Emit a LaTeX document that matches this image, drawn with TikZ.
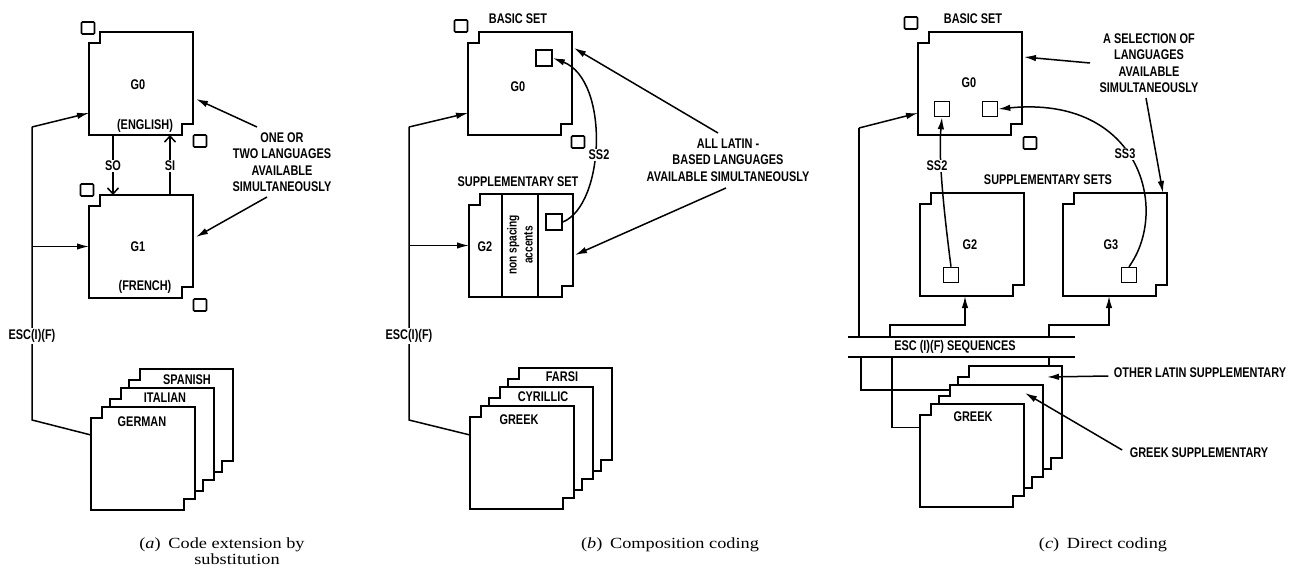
\documentclass[tikz,border=0pt]{standalone}
\usepackage{fontspec}
\setmainfont{Liberation Sans}
\newfontfamily\labfont[FakeStretch=0.78]{Liberation Sans}
\newfontfamily\capfont[FakeStretch=1.18]{Liberation Serif}
\usetikzlibrary{arrows.meta,calc}
\tikzset{
 boxnode/.style={minimum width=104pt,minimum height=103pt,inner sep=0pt,outer sep=0pt},
 boxline/.style={line width=1.8pt,line join=miter},
 sq/.style={draw,line width=1.7pt,minimum width=13pt,minimum height=12pt,inner sep=0pt,rounded corners=1pt},
 isq/.style={draw,line width=1.6pt,minimum width=16pt,minimum height=16pt,inner sep=0pt},
 lab/.style={font=\labfont\bfseries\fontsize{14}{16.5}\selectfont,inner sep=1.5pt,align=center},
 captxt/.style={font=\capfont\fontsize{15.5}{15.5}\selectfont,inner sep=0pt},
 conn/.style={line width=1.5pt},
 arr/.style={conn,-{Latex[length=12pt,width=6.5pt]}},
 oarr/.style={conn,-{Straight Barb[length=6pt,width=11pt]}},
}
\newcommand\nbox[3]{%
  \node[boxnode,anchor=north west] (#1) at (#2,#3) {};
  \draw[boxline,fill=white] ([yshift=-11pt]#1.north west) -- ++(11pt,0) -- ++(0,11pt) -- (#1.north east) -- ([yshift=11pt]#1.south east) -- ++(-11pt,0) -- ++(0,-11pt) -- (#1.south west) -- cycle;}
\begin{document}
\begin{tikzpicture}[x=1pt,y=-1pt]
\useasboundingbox (0,0) rectangle (1302,567);

% ---------------- panel (a)
\nbox{G0a}{89}{32}
\nbox{G1a}{89}{195}
\nbox{Sa3}{129}{369}
\nbox{Sa2}{110}{388}
\nbox{Sa1}{91}{407}
\node[lab] (tG0a) at (138,85) {G0};
\node[lab] (tENG) at (145,126) {(ENGLISH)};
\node[lab] (tG1a) at (138,247) {G1};
\node[lab] (tFRE) at (145,287) {(FRENCH)};
\node[lab] (tSPA) at (187,380) {SPANISH};
\node[lab] (tITA) at (165,398) {ITALIAN};
\node[lab] (tGER) at (142,422) {GERMAN};
\node[lab] (tonea) at (282,162) {ONE OR\\TWO LANGUAGES\\AVAILABLE\\SIMULTANEOUSLY};
\node[sq] (qa1) at (88,28) {};
\node[sq] (qa2) at (200,141) {};
\node[sq] (qa3) at (87,190) {};
\node[sq] (qa4) at (200,305) {};
\coordinate (atop) at (32,127);
\coordinate (abot) at (32,420);
\draw[conn] ([yshift=23.5pt]Sa1.west) -- (abot) -- (atop);
\draw[arr] (atop) -- ([yshift=22pt]G0a.south west);
\draw[arr] (G1a.west -| atop) -- (G1a.west);
\node[lab,fill=white] (esca) at (32,336) {ESC(I)(F)};
\draw[oarr] ([xshift=24pt]G0a.south west) -- ([xshift=24pt]G1a.north west);
\draw[oarr] ([xshift=81pt]G1a.north west) -- ([xshift=81pt]G0a.south west);
\node[lab,fill=white] (tSO) at (113,166) {SO};
\node[lab,fill=white] (tSI) at (170,166) {SI};
\coordinate (ona1) at (257,127);
\coordinate (ona2) at (267,197);
\draw[arr] (ona1) -- ([yshift=-15.5pt,xshift=3pt]G0a.east);
\draw[arr] (ona2) -- ([yshift=9.5pt,xshift=3pt]G1a.east);
\node[captxt] (capa1) at (222,545) {(\textit{a})\enspace Code extension by};
\node[captxt] (capa2) at (237,559) {substitution};

% ---------------- panel (b)
\nbox{G0b}{468}{32}
\nbox{G2b}{469}{194}
\draw[boxline] ([xshift=33pt]G2b.north west) -- ([xshift=33pt]G2b.south west);
\draw[boxline] ([xshift=69pt]G2b.north west) -- ([xshift=69pt]G2b.south west);
\nbox{Sb3}{508}{368}
\nbox{Sb2}{489}{387}
\nbox{Sb1}{470}{406}
\node[lab] (tBASb) at (518,19) {BASIC SET};
\node[lab] (tG0b) at (518,87) {G0};
\node[lab] (tSUPb) at (518,182) {SUPPLEMENTARY SET};
\node[lab] (tG2b) at (485,247) {G2};
\node[lab,rotate=90,font=\labfont\bfseries\fontsize{13}{16}\selectfont] (tnsp) at (520,245) {non spacing\\accents};
\node[lab] (tFAR) at (562,377) {FARSI};
\node[lab] (tCYR) at (543,397) {CYRILLIC};
\node[lab] (tGREb) at (519,420) {GREEK};
\node[sq] (qb1) at (461,26) {};
\node[sq] (qb2) at (578,142) {};
\node[isq] (qb3) at (544,58) {};
\node[isq] (qb4) at (554,222) {};
\draw[arr] (qb4.east) .. controls (605,205) and (610,80) .. (qb3.east);
\node[lab,fill=white] (tSS2b) at (599,155) {SS2};
\coordinate (btop) at (409,127);
\coordinate (bbot) at (409,420);
\draw[conn] ([yshift=22.5pt]Sb1.west) -- (bbot) -- (btop);
\draw[arr] (btop) -- ([yshift=22pt]G0b.south west);
\draw[arr] (G2b.west -| btop) -- (G2b.west);
\node[lab,fill=white] (escb) at (409,336) {ESC(I)(F)};
\node[lab] (tallb) at (728,160) {ALL LATIN -\\BASED LANGUAGES\\AVAILABLE SIMULTANEOUSLY};
\coordinate (alb1) at (718,133);
\coordinate (alb2) at (726,188);
\draw[arr] (alb1) -- ([yshift=35.5pt,xshift=2pt]G0b.east);
\draw[arr] (alb2) -- ([yshift=-9.5pt,xshift=2pt]G2b.east);
\node[captxt] (capb) at (670,545) {(\textit{b})\enspace Composition coding};

% ---------------- panel (c)
\nbox{G0c}{918}{32}
\nbox{G2c}{920}{193}
\nbox{G3c}{1063}{193}
\nbox{Sc3}{958}{366}
\nbox{Sc2}{939}{385}
\nbox{Sc1}{920}{404}
\node[lab] (tBASc) at (973,19) {BASIC SET};
\node[lab] (tG0c) at (969,83) {G0};
\node[lab] (tSUPc) at (1048,180) {SUPPLEMENTARY SETS};
\node[lab] (tG2c) at (970,245) {G2};
\node[lab] (tG3c) at (1111,245) {G3};
\node[lab] (tGREc) at (973,417) {GREEK};
\node[lab] (tselc) at (1149,63) {A SELECTION OF\\LANGUAGES\\AVAILABLE\\SIMULTANEOUSLY};
\node[sq] (qc1) at (911,23) {};
\node[sq] (qc2) at (1030,143) {};
\node[isq,minimum size=15pt] (qc3) at (942,109) {};
\node[isq,minimum size=15pt] (qc4) at (990,109) {};
\node[isq,minimum size=15pt] (qc5) at (951,275) {};
\node[isq,minimum size=15pt] (qc6) at (1129,275) {};
\draw[arr] (qc5.north) .. controls (945,220) and (938,160) .. (qc3.south);
\draw[arr] (qc6.north) .. controls (1170,210) and (1140,95) .. (qc4.east);
\node[lab,fill=white] (tSS2c) at (937,166) {SS2};
\node[lab,fill=white] (tSS3c) at (1125,154) {SS3};
\node[minimum width=227pt,minimum height=20pt,inner sep=0pt,outer sep=0pt,anchor=north west] (band) at (848,337) {};
\draw[conn] (band.north west) -- (band.north east);
\draw[conn] (band.south west) -- (band.south east);
\node[lab] (bandt) at (955,347) {ESC (I)(F) SEQUENCES};
\coordinate (ctop) at (859,128);
\draw[conn] ([xshift=11pt]band.north west) -- (ctop);
\draw[arr] (ctop) -- ([yshift=22pt]G0c.south west);
\coordinate (k1) at (965,325);
\coordinate (k2) at (1109,325);
\draw[arr] ([xshift=42pt]band.north west) |- (k1) -- ([xshift=-7pt]G2c.south);
\draw[arr] ([xshift=201pt]band.north west) |- (k2) -- ([xshift=-6pt]G3c.south);
\draw[conn] ([xshift=201pt]band.south west) -- ([xshift=91pt]Sc3.north west);
\draw[conn] ([xshift=44pt]band.south west) |- ([yshift=28pt]Sc1.west);
\draw[conn] ([xshift=13pt]band.south west) |- ([xshift=11pt,yshift=-5pt]Sc2.north west);
\coordinate (sel1) at (1090,63);
\coordinate (sel2) at (1146,98);
\draw[arr] (sel1) -- ([yshift=26.5pt,xshift=2pt]G0c.east);
\draw[arr] (sel2) -- ([xshift=-4pt]G3c.north east);
\node[lab] (olt) at (1200,373) {OTHER LATIN SUPPLEMENTARY};
\draw[arr] ([xshift=-4pt,yshift=-3pt]olt.west) -- ([xshift=-15pt,yshift=-11pt]Sc3.north east);
\node[lab] (gst) at (1199,453) {GREEK SUPPLEMENTARY};
\draw[arr] ([xshift=-6pt,yshift=3pt]gst.west) -- ([xshift=-18pt,yshift=-8pt]Sc2.north east);
\node[captxt] (capc) at (1103,545) {(\textit{c})\enspace Direct coding};
\end{tikzpicture}
\end{document}
